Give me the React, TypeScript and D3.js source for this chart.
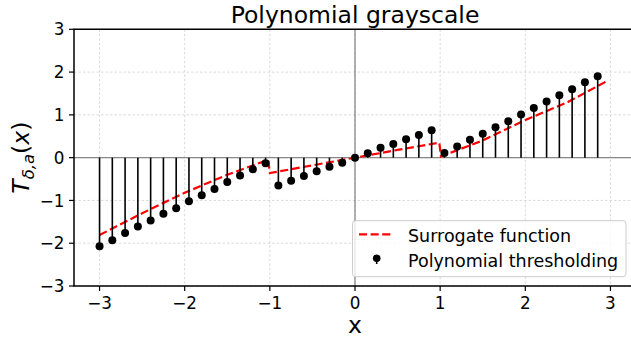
import React from "react";
import * as d3 from "d3";

const W = 631;
const H = 343;

const titleText = "Polynomial grayscale";
const xTicks = [-3, -2, -1, 0, 1, 2, 3];
const yTicks = [-3, -2, -1, 0, 1, 2, 3];

const stemX = [
  -3.0, -2.85, -2.7, -2.55, -2.4, -2.25, -2.1, -1.95, -1.8, -1.65,
  -1.5, -1.35, -1.2, -1.05, -0.9, -0.75, -0.6, -0.45, -0.3, -0.15,
  0.0, 0.15, 0.3, 0.45, 0.6, 0.75, 0.9, 1.05, 1.2, 1.35,
  1.5, 1.65, 1.8, 1.95, 2.1, 2.25, 2.4, 2.55, 2.7, 2.85,
];
const stemY = [
  -2.07, -1.93, -1.76, -1.61, -1.47, -1.31, -1.18, -1.02, -0.88, -0.73,
  -0.57, -0.42, -0.27, -0.13, -0.65, -0.54, -0.43, -0.32, -0.21, -0.12,
  0.0, 0.1, 0.23, 0.32, 0.43, 0.53, 0.64, 0.11, 0.26, 0.42,
  0.56, 0.71, 0.85, 1.01, 1.16, 1.31, 1.46, 1.6, 1.76, 1.9,
];

const surrX = [-3.0, -2.5, -2.0, -1.5, -1.02, -1.0, -0.5, 0.0, 0.5, 0.99, 1.01, 1.5, 2.0, 2.5, 2.95];
const surrY = [-1.81, -1.3, -0.82, -0.4, -0.05, -0.36, -0.18, 0.0, 0.18, 0.35, 0.03, 0.4, 0.88, 1.3, 1.78];

const FONT = "DejaVu Sans, sans-serif";
const fmt = (v: number) => (v < 0 ? "\u2212" + Math.abs(v) : String(v));

export default function App() {
  const left = 74;
  const right = 636;
  const top = 29.3;
  const bottom = 286;
  const x = d3.scaleLinear().domain([-3.3, 3.3]).range([left, right]);
  const y = d3.scaleLinear().domain([-3, 3]).range([bottom, top]);

  const surrData = surrX.map((v, i) => [v, surrY[i]] as [number, number]);
  const line = d3
    .line<[number, number]>()
    .x((d) => x(d[0]))
    .y((d) => y(d[1]));

  return (
    <svg
      width={W}
      height={H}
      style={{ position: "absolute", left: 0, top: 0, background: "#fff" }}
      fontFamily={FONT}
    >
      <rect x={0} y={0} width={W} height={H} fill="#fff" />
      {/* grid */}
      {xTicks.map((t) => (
        <line
          key={"gx" + t}
          x1={x(t)}
          x2={x(t)}
          y1={top}
          y2={bottom}
          stroke="#d0d0d0"
          strokeWidth={0.8}
          strokeDasharray="2.5,2"
        />
      ))}
      {yTicks.map((t) => (
        <line
          key={"gy" + t}
          x1={left}
          x2={right}
          y1={y(t)}
          y2={y(t)}
          stroke="#d0d0d0"
          strokeWidth={0.8}
          strokeDasharray="2.5,2"
        />
      ))}
      {/* zero lines */}
      <line x1={left} x2={right} y1={y(0)} y2={y(0)} stroke="#888" strokeWidth={1.3} />
      <line x1={x(0)} x2={x(0)} y1={top} y2={bottom} stroke="#888" strokeWidth={1.3} />

      {/* surrogate */}
      <path
        d={line(surrData) || ""}
        fill="none"
        stroke="#ff0000"
        strokeWidth={2.2}
        strokeDasharray="8.1,3.5"
      />

      {/* stems */}
      {stemX.map((v, i) => (
        <line
          key={"s" + i}
          x1={x(v)}
          x2={x(v)}
          y1={y(0)}
          y2={y(stemY[i])}
          stroke="#000"
          strokeWidth={1.6}
        />
      ))}
      {stemX.map((v, i) => (
        <circle key={"c" + i} cx={x(v)} cy={y(stemY[i])} r={4} fill="#000" />
      ))}

      {/* spines */}
      <line x1={left} x2={left} y1={top} y2={bottom} stroke="#000" strokeWidth={1.5} />
      <line x1={left - 0.75} x2={right} y1={bottom} y2={bottom} stroke="#000" strokeWidth={1.5} />
      <line x1={left - 0.75} x2={right} y1={top} y2={top} stroke="#000" strokeWidth={1.5} />
      <line x1={right} x2={right} y1={top} y2={bottom} stroke="#000" strokeWidth={1.5} />

      {/* x ticks */}
      {xTicks.map((t) => (
        <g key={"xt" + t}>
          <line x1={x(t)} x2={x(t)} y1={bottom} y2={bottom + 5} stroke="#000" strokeWidth={1.2} />
          <text x={x(t)} y={308.5} fontSize={16.8} textAnchor="middle" fill="#000">
            {fmt(t)}
          </text>
        </g>
      ))}
      {/* y ticks */}
      {yTicks.map((t) => (
        <g key={"yt" + t}>
          <line x1={left - 5} x2={left} y1={y(t)} y2={y(t)} stroke="#000" strokeWidth={1.2} />
          <text x={64.5} y={y(t) + 6.1} fontSize={16.8} textAnchor="end" fill="#000">
            {fmt(t)}
          </text>
        </g>
      ))}

      {/* title */}
      <text x={(left + right) / 2} y={23} fontSize={23.5} textAnchor="middle" fill="#000">
        {titleText}
      </text>
      {/* x label */}
      <text x={x(0)} y={333} fontSize={23.5} textAnchor="middle" fill="#000">
        x
      </text>
      {/* y label */}
      <text
        transform={`translate(29,${(top + bottom) / 2}) rotate(-90)`}
        fontSize={23.5}
        textAnchor="middle"
        fill="#000"
      >
        <tspan fontStyle="italic">T</tspan>
        <tspan fontSize={16.5} fontStyle="italic" dy={5}>
          {"δ,a"}
        </tspan>
        <tspan dy={-5}>(</tspan>
        <tspan fontStyle="italic">x</tspan>
        <tspan>)</tspan>
      </text>

      {/* legend */}
      <rect
        x={352.5}
        y={220.7}
        width={273.5}
        height={56}
        rx={3}
        fill="#fff"
        fillOpacity={0.8}
        stroke="#cccccc"
        strokeWidth={1}
      />
      <line
        x1={359}
        x2={393}
        y1={234.3}
        y2={234.3}
        stroke="#ff0000"
        strokeWidth={2.2}
        strokeDasharray="8.1,3.5"
      />
      <text x={408} y={241.7} fontSize={17.5} fill="#000">
        Surrogate function
      </text>
      <line x1={376.7} x2={376.7} y1={258.3} y2={264} stroke="#000" strokeWidth={1.6} />
      <circle cx={376.7} cy={258.3} r={3.8} fill="#000" />
      <text x={408} y={267.3} fontSize={17.5} fill="#000">
        Polynomial thresholding
      </text>
    </svg>
  );
}
